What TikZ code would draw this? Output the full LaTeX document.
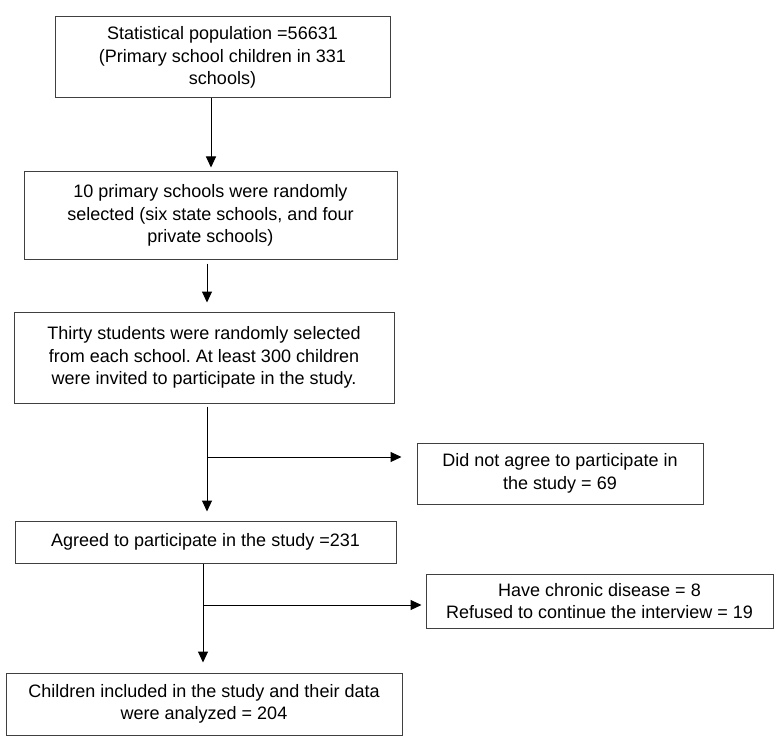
\documentclass[tikz,border=0pt]{standalone}
\usepackage{fontspec}
\setmainfont{Liberation Sans}
\usetikzlibrary{arrows.meta}
\frenchspacing
\begin{document}
\begin{tikzpicture}[x=1pt,y=-1pt,
  box/.style={draw=black!75,line width=1pt,align=center,inner sep=0pt,font=\fontsize{18}{22.5}\selectfont},
  arr/.style={line width=1pt,-{Triangle[width=10pt,length=11pt]}}]
\useasboundingbox[fill=white] (0,0) rectangle (776,738);
\node[box,minimum width=335pt,minimum height=81pt] (b1) at (222.5,57.5) {Statistical population =56631\\(Primary school children in 331\\schools)};
\node[box,minimum width=373pt,minimum height=87pt] (b2) at (210.5,215.5) {10 primary schools were randomly\\selected (six state schools, and four\\private schools)};
\node[box,minimum width=380pt,minimum height=91pt] (b3) at (204,357.5) {Thirty students were randomly selected\\from each school. At least 300 children\\were invited to participate in the study.};
\node[box,minimum width=286pt,minimum height=61pt] (b4) at (560,473.5) {Did not agree to participate in\\the study = 69};
\node[box,minimum width=381pt,minimum height=42pt] (b5) at (205.5,542) {Agreed to participate in the study =231};
\node[box,minimum width=347pt,minimum height=54pt] (b6) at (599.5,601) {Have chronic disease = 8\\Refused to continue the interview = 19};
\node[box,minimum width=396pt,minimum height=62pt] (b7) at (204,704) {Children included in the study and their data\\were analyzed = 204};

\draw[arr,shorten >=4pt] ([xshift=-11.5pt]b1.south) -- ([xshift=-11.5pt]b1.south |- b2.north);
\draw[arr,shorten <=4pt,shorten >=9pt] ([xshift=-3.5pt]b2.south) -- ([xshift=-3.5pt]b2.south |- b3.north);
\draw[arr,shorten <=3pt,shorten >=9pt] ([xshift=3pt]b3.south) -- ([xshift=3pt]b3.south |- b5.north);
\coordinate (j1) at (207.5,457);
\draw[arr,shorten >=15pt] (j1) -- (j1 -| b4.west);
\draw[arr,shorten >=10pt] ([xshift=-2.5pt]b5.south) -- ([xshift=-2.5pt]b5.south |- b7.north);
\coordinate (j2) at (203.5,605);
\draw[arr,shorten >=4pt] (j2) -- (j2 -| b6.west);
\end{tikzpicture}
\end{document}
